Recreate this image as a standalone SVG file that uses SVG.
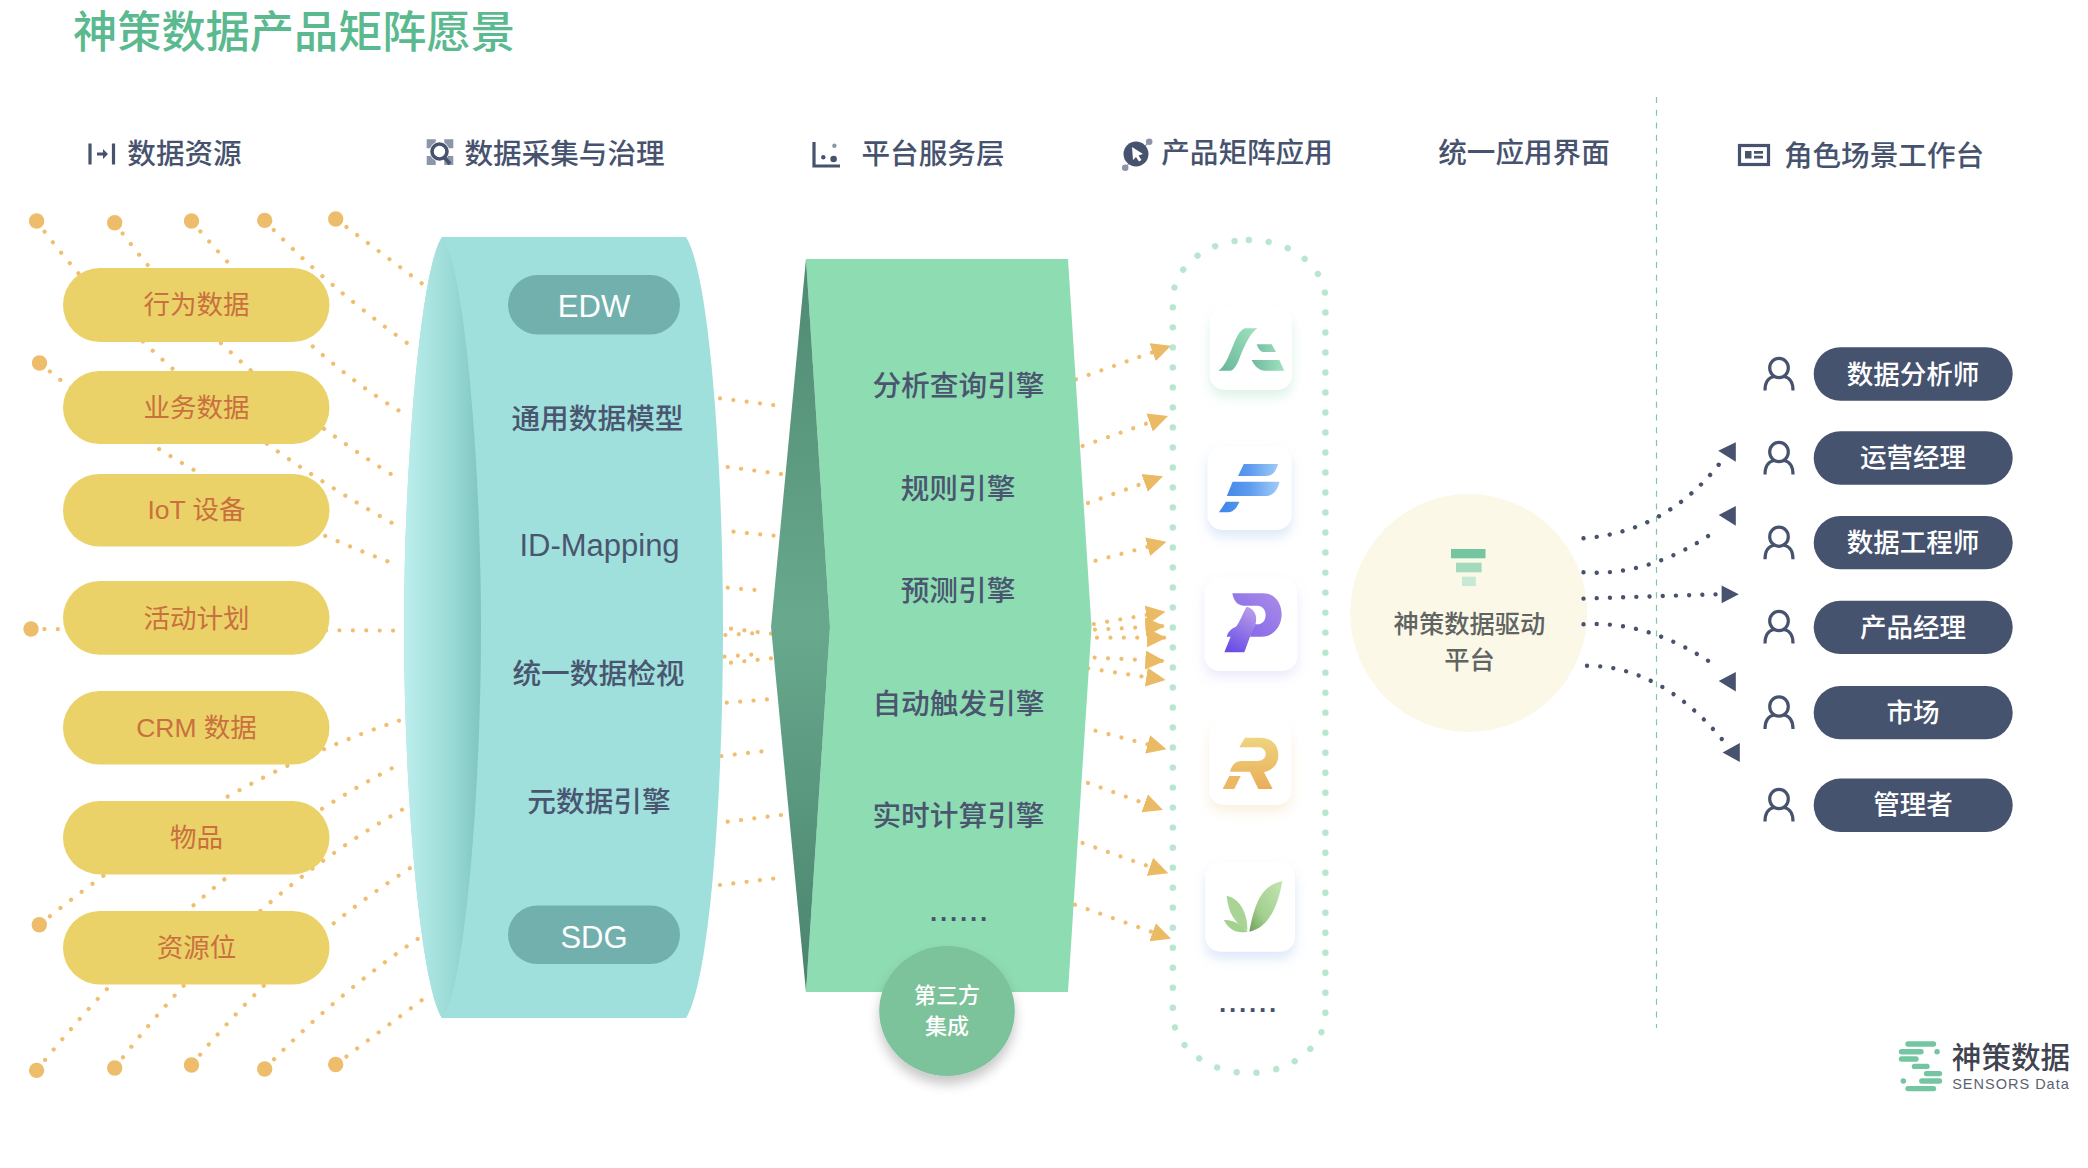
<svg xmlns="http://www.w3.org/2000/svg" width="2088" height="1168" viewBox="0 0 2088 1168">
<style>
text{font-family:"Noto Sans CJK SC","Noto Sans",sans-serif;text-anchor:middle}
.title{font-size:44.200px;font-weight:500;fill:#5ab98f;text-anchor:start}
.h{font-size:28.600px;font-weight:500;fill:#47536e}
.src{fill:#ebd268}
.srct{font-family:"Liberation Sans","Noto Sans CJK SC",sans-serif;font-size:26.500px;fill:#c9703f}
.t{font-size:28.700px;font-weight:500;fill:#4a5570}
.tl{font-family:"Liberation Sans",sans-serif;font-weight:400;font-size:31px}
.tag{fill:#72b0ae}
.tagt{font-family:"Liberation Sans",sans-serif;font-size:31px;fill:#fff}
.rp{fill:#46536f}
.rt{font-size:26.500px;fill:#fff;font-weight:500}
.more{font-family:"Liberation Sans",sans-serif;font-size:26px;font-weight:700;letter-spacing:2.800px;fill:#47536e}
.dy{fill:none;stroke:#efbe70;stroke-width:4.200;stroke-linecap:round;stroke-dasharray:.01 13.400}
.ar{fill:none;stroke:#efbe70;stroke-width:4.200;stroke-linecap:round;stroke-dasharray:.01 13.400;marker-end:url(#ya)}
.dk{fill:none;stroke:#47536e;stroke-width:4.400;stroke-linecap:round;stroke-dasharray:.01 13.200}
.dka{fill:#47536e}
.big{fill:#edbd6c}
.card{fill:#fff}
.ic{fill:none;stroke:#47536e;stroke-width:3.200}
.icf{fill:#47536e}
.icg{fill:#8d95a9}
.lg{fill:none;stroke:#74c6a0;stroke-width:5.400;stroke-linecap:round}
</style>
<defs>
<marker id="ya" markerUnits="userSpaceOnUse" markerWidth="20" markerHeight="20" viewBox="0 0 20 20" refX="19.500" refY="10" orient="auto"><path d="M0 .5L19.500 10L0 19.500Z" fill="#ebba65"/></marker>
<linearGradient id="face" x1="0" x2="1" y1="0" y2="0"><stop offset="0" stop-color="#bceeec"/><stop offset=".6" stop-color="#9bdbd7"/><stop offset="1" stop-color="#7fc5c1"/></linearGradient>
<linearGradient id="wedge" x1="0" x2="0" y1="0" y2="1"><stop offset="0" stop-color="#4f8a72"/><stop offset=".5" stop-color="#68a98d"/><stop offset="1" stop-color="#4a836e"/></linearGradient>
<linearGradient id="ga" x1="1" x2="0" y1="0" y2="1"><stop offset="0" stop-color="#a0e3bd"/><stop offset="1" stop-color="#66b59b"/></linearGradient>
<linearGradient id="ga2" x1="1" x2="0" y1="0" y2="0"><stop offset="0" stop-color="#a0e3bd"/><stop offset="1" stop-color="#6fb9a0"/></linearGradient>
<linearGradient id="gf" x1="0" x2="1" y1="0" y2="0"><stop offset="0" stop-color="#3d84e8"/><stop offset=".5" stop-color="#5c9bee"/><stop offset="1" stop-color="#a3ccf6"/></linearGradient>
<linearGradient id="gp" x1="1" x2="0" y1="0" y2="1"><stop offset="0" stop-color="#ab8de8"/><stop offset="1" stop-color="#7f63e8"/></linearGradient>
<linearGradient id="gp2" x1=".7" x2=".3" y1="0" y2="1"><stop offset="0" stop-color="#b89ce8"/><stop offset="1" stop-color="#6a4de6"/></linearGradient>
<linearGradient id="gr" x1="0" x2="0" y1="0" y2="1"><stop offset="0" stop-color="#f0d47e"/><stop offset="1" stop-color="#e9ad5a"/></linearGradient>
<linearGradient id="gv" x1="1" x2="0" y1="0" y2="1"><stop offset="0" stop-color="#c2e5b1"/><stop offset=".65" stop-color="#a2cf8e"/><stop offset="1" stop-color="#6a9f58"/></linearGradient>
<filter id="sg" x="-30%" y="-30%" width="160%" height="170%"><feDropShadow dx="0" dy="7" stdDeviation="6" flood-color="#8fd4b4" flood-opacity=".3"/></filter>
<filter id="sb" x="-30%" y="-30%" width="160%" height="170%"><feDropShadow dx="0" dy="7" stdDeviation="6" flood-color="#8fb4e8" flood-opacity=".3"/></filter>
<filter id="sp" x="-30%" y="-30%" width="160%" height="170%"><feDropShadow dx="0" dy="6" stdDeviation="6" flood-color="#b9a4ec" flood-opacity=".25"/></filter>
<filter id="so" x="-30%" y="-30%" width="160%" height="170%"><feDropShadow dx="0" dy="7" stdDeviation="6" flood-color="#eccf9a" flood-opacity=".3"/></filter>
<filter id="sc" x="-30%" y="-30%" width="160%" height="170%"><feDropShadow dx="0" dy="8" stdDeviation="6" flood-color="#000" flood-opacity=".22"/></filter>
<g id="person"><ellipse cx="0" cy="-6" rx="9.300" ry="9.600" class="ic"/><path class="ic" d="M-14 16.500C-14 8 -10 3.500 -5 2.500M14 16.500C14 8 10 3.500 5 2.500"/></g>
</defs>

<text class="title" x="73" y="48">神策数据产品矩阵愿景</text>

<g id="headers">
<g id="h-sources"><path class="ic" d="M90 143.500V164.500M113.500 143.500V164.500"/><path class="icf" d="M97 152.500H103V149L108 154L103 159V155.500H97Z"/><text class="h" x="184.500" y="163.500">数据资源</text></g>
<g id="h-collect"><path class="icg" d="M426.700 139.300h9v9h-9zM444.300 139.300h9v9h-9zM426.700 156h9v9h-9zM444.300 156h9v9h-9z"/><circle cx="439.500" cy="151.500" r="10" fill="#fff"/><circle cx="439.500" cy="151.500" r="7.500" class="ic" style="stroke-width:3.600"/><path class="ic" d="M444.500 157.500L450 164" style="stroke-width:3.600"/><text class="h" x="564.500" y="163.500">数据采集与治理</text></g>
<g id="h-platform"><path class="ic" d="M814 142V166H840"/><circle cx="834.400" cy="145.700" r="2.200" class="icg"/><circle cx="823.300" cy="157.300" r="2.200" class="icf"/><circle cx="833.600" cy="159" r="3.300" class="icf"/><text class="h" x="933" y="163.500">平台服务层</text></g>
<g id="h-apps"><path d="M1125.200 167.700L1149.200 141.700" stroke="#8d95a9" stroke-width="1.200"/><circle cx="1136" cy="154" r="12.500" class="icf"/><circle cx="1149.200" cy="141.700" r="3.300" class="icg"/><circle cx="1125.200" cy="167.700" r="3.300" class="icg"/><path d="M1132 147L1143 154L1138.500 155.500L1141.500 160L1139 161.500L1136 157L1133 160Z" fill="#fff"/><text class="h" x="1247" y="163">产品矩阵应用</text></g>
<g id="h-ui"><text class="h" x="1524" y="163">统一应用界面</text></g>
<g id="h-roles"><rect class="ic" x="1739.500" y="145.500" width="29" height="19"/><path class="icf" d="M1745 151h6.500v7.500h-6.500zM1754 151h9v2.800h-9zM1754 155.800h9v2.800h-9z"/><text class="h" x="1884" y="166">角色场景工作台</text></g>
</g>

<g id="unified-ui">
<ellipse cx="1468.700" cy="613" rx="118.500" ry="119" fill="#fcf8e7"/>
<rect x="1451" y="549" width="34.500" height="9.300" fill="#74c6a0"/>
<rect x="1456" y="562.700" width="25.600" height="9.600" fill="#a3d9bc"/>
<rect x="1462" y="576.700" width="13.800" height="9.300" fill="#c7e8d5"/>
<text x="1469.500" y="633" font-size="25.300" fill="#5f6463" font-weight="500">神策数据驱动</text>
<text x="1469.500" y="669" font-size="25.300" fill="#5f6463" font-weight="500">平台</text>
</g>

<path id="divider" d="M1656.500 97V1028" stroke="#7cc9a6" stroke-width="1.200" stroke-dasharray="6 6.700" fill="none"/>

<g id="connectors">
<g id="left-lines">
<path class="dy" d="M335.700 219L424 285"/>
<path class="dy" d="M264.700 220.400Q322 282 409 344.400"/>
<path class="dy" d="M191.500 221Q304.500 354 399.500 411"/>
<path class="dy" d="M114.700 222.700Q222 370 402 481"/>
<path class="dy" d="M36.600 221Q170 401 403 529"/>
<path class="dy" d="M39.500 363Q190 488 400 566"/>
<path class="dy" d="M31 629L395 630.600"/>
<path class="dy" d="M335.700 1064.500L425 997.700"/>
<path class="dy" d="M264.700 1069Q335 995 419 938"/>
<path class="dy" d="M191.500 1065Q289 946 411 867.500"/>
<path class="dy" d="M114.700 1068Q242 901 402 809.700"/>
<path class="dy" d="M36.600 1070.400Q200 866 403 762.500"/>
<path class="dy" d="M39.300 924.700Q219 780 399.500 720.500"/>
</g>
<g id="mid-lines">
<path class="dy" d="M720 398.300L786 406.700"/>
<path class="dy" d="M727.700 467L781 474"/>
<path class="dy" d="M733.500 531.700L774 535.700"/>
<path class="dy" d="M727.700 587.700L767 591"/>
<path class="dy" d="M731 628.700L771 633.700"/>
<path class="dy" d="M725.400 635L765 632.700"/>
<path class="dy" d="M724.500 656.700L764 653.700"/>
<path class="dy" d="M731 662.700L771 658.300"/>
<path class="dy" d="M726.800 702.700L768 699.300"/>
<path class="dy" d="M721.400 756L774 750"/>
<path class="dy" d="M727.700 821.700L781 815"/>
<path class="dy" d="M720 885L786 877"/>
</g>
<g id="app-lines">
<path class="ar" d="M1076 379.300L1171 345.700"/>
<path class="ar" d="M1082.600 446L1168 416"/>
<path class="ar" d="M1088 503L1163 476.300"/>
<path class="ar" d="M1095.500 560.700L1166.500 541.700"/>
<path class="ar" d="M1093.800 624L1165.600 611.700"/>
<path class="ar" d="M1095 629.700L1164.800 626"/>
<path class="ar" d="M1097 637.700L1166.500 637.700"/>
<path class="ar" d="M1094.600 657.700L1164.800 661"/>
<path class="ar" d="M1088.400 668.300L1165.600 680"/>
<path class="ar" d="M1095.500 730.700L1166.500 749.300"/>
<path class="ar" d="M1088 783L1163 810"/>
<path class="ar" d="M1082.600 843L1168.300 873.300"/>
<path class="ar" d="M1075 904.700L1171 938.700"/>
</g>
<g id="role-lines">
<path class="dk" d="M1583.500 538.300Q1665 532 1718.700 464.700"/><path class="dka" d="M1735.800 442.300L1718.200 450.700L1735.800 461.700Z"/>
<path class="dk" d="M1583.500 572.300Q1651 577 1719 528.700"/><path class="dka" d="M1735.800 506L1718.700 515L1735.800 525.700Z"/>
<path class="dk" d="M1583.500 598.600L1716.700 594.300"/><path class="dka" d="M1721.600 585.400L1738.800 594.300L1721.600 603.200Z"/>
<path class="dk" d="M1583.500 624.300Q1651 620 1719 668.200"/><path class="dka" d="M1735.800 672L1718.700 681L1735.800 691.400Z"/>
<path class="dk" d="M1587 665.700Q1661 666 1722.600 740"/><path class="dka" d="M1739.800 742.900L1722.600 752.500L1739.800 762Z"/>
</g>
</g>

<g id="endpoints">
<circle class="big" cx="36.600" cy="221" r="7.700"/><circle class="big" cx="114.700" cy="222.700" r="7.700"/><circle class="big" cx="191.500" cy="221" r="7.700"/><circle class="big" cx="264.700" cy="220.400" r="7.700"/><circle class="big" cx="335.700" cy="219" r="7.700"/><circle class="big" cx="39.500" cy="363" r="7.700"/><circle class="big" cx="31" cy="629" r="7.700"/><circle class="big" cx="39.300" cy="924.700" r="7.700"/><circle class="big" cx="36.600" cy="1070.400" r="7.700"/><circle class="big" cx="114.700" cy="1068" r="7.700"/><circle class="big" cx="191.500" cy="1065" r="7.700"/><circle class="big" cx="264.700" cy="1069" r="7.700"/><circle class="big" cx="335.700" cy="1064.500" r="7.700"/>
</g>

<g id="src-behavior"><rect class="src" x="63" y="268" width="266.500" height="74" rx="37"/><text class="srct" x="196.500" y="314">行为数据</text></g>
<g id="src-business"><rect class="src" x="63" y="371" width="266.500" height="73" rx="36.500"/><text class="srct" x="196.500" y="417">业务数据</text></g>
<g id="src-iot"><rect class="src" x="63" y="474" width="266.500" height="72.500" rx="36"/><text class="srct" x="196.500" y="519">IoT 设备</text></g>
<g id="src-campaign"><rect class="src" x="63" y="581" width="266.500" height="73.700" rx="36.800"/><text class="srct" x="196.500" y="628">活动计划</text></g>
<g id="src-crm"><rect class="src" x="63" y="691" width="266.500" height="73.600" rx="36.800"/><text class="srct" x="196.500" y="737">CRM 数据</text></g>
<g id="src-item"><rect class="src" x="63" y="801" width="266.500" height="73.400" rx="36.700"/><text class="srct" x="196.500" y="847">物品</text></g>
<g id="src-slot"><rect class="src" x="63" y="911" width="266.500" height="73.600" rx="36.800"/><text class="srct" x="196.500" y="957">资源位</text></g>

<g id="collect-cylinder">
<path fill="#9fe0dc" d="M442 237H686C710 275 723 470 723 627.500C723 790 710 980 686 1018H442C420 985 404 790 404 627.500C404 470 420 270 442 237Z"/>
<path fill="url(#face)" d="M442 237C420 270 404 470 404 627.500C404 790 420 985 442 1018C465 990 481 790 481 627.500C481 470 465 265 442 237Z"/>
<rect class="tag" x="508" y="275" width="172" height="59.500" rx="29.700"/><text class="tagt" x="594" y="316.500">EDW</text>
<text class="t" x="597.500" y="428.500">通用数据模型</text>
<text class="t tl" x="599.500" y="556">ID-Mapping</text>
<text class="t" x="598.500" y="683.500">统一数据检视</text>
<text class="t" x="599" y="812">元数据引擎</text>
<rect class="tag" x="508" y="905.400" width="172" height="58.600" rx="29.300"/><text class="tagt" x="594" y="947.500">SDG</text>
</g>

<g id="platform-layer">
<path fill="#8edcb2" d="M806 259H1068L1091.500 627L1068 992H806L830 627Z"/>
<path fill="url(#wedge)" d="M806 259L830 627L806 992L771 627Z"/>
<text class="t" x="958.500" y="395.500">分析查询引擎</text>
<text class="t" x="958" y="498.500">规则引擎</text>
<text class="t" x="958" y="600.500">预测引擎</text>
<text class="t" x="958.500" y="713.500">自动触发引擎</text>
<text class="t" x="958.500" y="825.500">实时计算引擎</text>
<text class="more" x="960" y="921">......</text>
</g>

<g id="third-party">
<ellipse cx="947" cy="1011" rx="67.800" ry="65" fill="#7cc29b" filter="url(#sc)"/>
<text x="947" y="1003" font-size="22" font-weight="500" fill="#fff">第三方</text>
<text x="947" y="1034" font-size="22" font-weight="500" fill="#fff">集成</text>
</g>

<g id="app-matrix">
<rect x="1172.800" y="240" width="152.600" height="833" rx="76" ry="60" fill="none" stroke="#b8e6cf" stroke-width="6.400" stroke-linecap="round" stroke-dasharray=".01 20"/>
<text class="more" x="1249" y="1012">......</text>
</g>

<g id="app-a">
<rect class="card" x="1209.800" y="307.700" width="82.200" height="82.300" rx="15" filter="url(#sg)"/>
<g transform="translate(1200 300) scale(.3333)">
<path fill="url(#ga)" d="M135 85H172C150 100 135 135 120 170C112 195 100 212 90 212H55C75 200 85 170 100 135C110 110 120 90 135 85Z"/>
<path fill="url(#ga2)" d="M170 133H215L228 156H190C180 156 175 145 170 133ZM155 180H238L253 212H195C175 212 162 195 155 180Z"/>
</g>
</g>
<g id="app-f">
<rect class="card" x="1207.600" y="446" width="83.900" height="84" rx="15" filter="url(#sb)"/>
<path fill="url(#gf)" d="M1243.800 464H1278C1276 471 1273 476 1266 476H1238ZM1232.600 481.700H1279.500C1278 490 1273 496 1265 496H1226.800ZM1225.900 501.700H1239.300C1237 508 1233 512.300 1228 512.300H1219Z"/>
</g>
<g id="app-p">
<rect class="card" x="1204.500" y="578.300" width="92.800" height="92.700" rx="15" filter="url(#sp)"/>
<g transform="translate(1200 575) scale(.3333)">
<path fill="url(#gp)" d="M97 55H190C225 55 245 85 245 118C245 155 220 185 185 185H150L158 148H172C188 148 197 135 197 120C197 105 188 92 172 92H130C112 92 100 75 97 55Z"/>
<path fill="url(#gp2)" d="M140 95C160 100 172 118 168 140C165 160 155 170 150 185L133 232H73L92 185H80C84 170 95 160 108 155C120 140 128 115 140 95Z"/>
</g>
</g>
<g id="app-r">
<rect class="card" x="1209" y="721.700" width="82.500" height="83.300" rx="15" filter="url(#so)"/>
<g transform="translate(1200 715) scale(.3333)">
<path fill="url(#gr)" d="M135 68H180C215 68 235 90 235 120C235 148 218 165 192 172L218 222H175L150 170H90C95 152 105 138 125 138H172C187 138 197 130 197 118C197 105 188 97 175 97H118Z"/>
<path fill="#ecb864" d="M88 183H122L103 222H68Z"/>
</g>
</g>
<g id="app-v">
<rect class="card" x="1205.400" y="861.700" width="89.600" height="90" rx="15" filter="url(#sb)"/>
<g transform="translate(1200 860) scale(.3333)">
<path fill="#a3d190" d="M72 180C100 178 125 195 143 215C110 222 85 208 72 180Z"/>
<path fill="#a9d496" d="M80 107C120 115 143 160 142 212C105 190 85 160 80 107Z"/>
<path fill="url(#gv)" d="M247 63C190 75 165 120 148 215C200 205 232 150 247 63Z"/>
</g>
</g>

<g id="role-analyst"><use href="#person" x="1779" y="374"/><rect class="rp" x="1813.700" y="347.300" width="199" height="53.400" rx="26.700"/><text class="rt" x="1913" y="384">数据分析师</text></g>
<g id="role-ops"><use href="#person" x="1779" y="458"/><rect class="rp" x="1813.700" y="431.300" width="199" height="53.400" rx="26.700"/><text class="rt" x="1913" y="467">运营经理</text></g>
<g id="role-engineer"><use href="#person" x="1779" y="542.700"/><rect class="rp" x="1813.700" y="516" width="199" height="53.300" rx="26.700"/><text class="rt" x="1913" y="552">数据工程师</text></g>
<g id="role-pm"><use href="#person" x="1779" y="627"/><rect class="rp" x="1813.700" y="600.700" width="199" height="53.300" rx="26.700"/><text class="rt" x="1913" y="636.500">产品经理</text></g>
<g id="role-market"><use href="#person" x="1779" y="712.500"/><rect class="rp" x="1813.700" y="686" width="199" height="53.300" rx="26.700"/><text class="rt" x="1913" y="722">市场</text></g>
<g id="role-admin"><use href="#person" x="1779" y="805"/><rect class="rp" x="1813.700" y="778.600" width="199" height="53.400" rx="26.700"/><text class="rt" x="1913" y="814">管理者</text></g>

<g id="logo">
<path class="lg" d="M1908 1044H1933.500M1901.500 1051.800H1921M1937 1051.800h.1M1901.500 1059H1916M1914.500 1066.400H1927M1926.500 1073.600H1939.500M1921.800 1081H1939.500M1903.300 1081h.1M1908 1088.600H1933.500"/>
<text x="2011" y="1067.500" font-size="29.600" font-weight="500" fill="#3f4450">神策数据</text>
<text x="2011" y="1088.500" font-size="14.500" letter-spacing="1" fill="#5b6270" style="font-family:'Liberation Sans',sans-serif">SENSORS Data</text>
</g>
</svg>
